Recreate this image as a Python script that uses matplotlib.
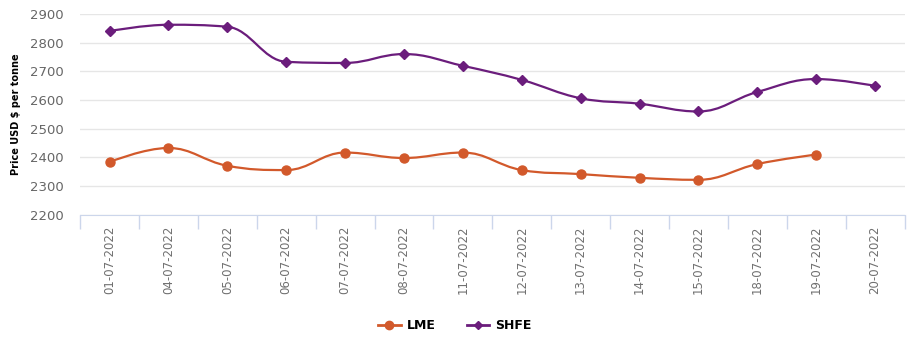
import matplotlib.pyplot as plt
from matplotlib.path import Path
from matplotlib.patches import PathPatch
from matplotlib.lines import Line2D

dates = ["01-07-2022", "04-07-2022", "05-07-2022", "06-07-2022", "07-07-2022",
         "08-07-2022", "11-07-2022", "12-07-2022", "13-07-2022", "14-07-2022",
         "15-07-2022", "18-07-2022", "19-07-2022", "20-07-2022"]
lme = [2384, 2433, 2371, 2356, 2417, 2398, 2417, 2356, 2342, 2329, 2322, 2377, 2410]
shfe = [2840, 2862, 2855, 2733, 2729, 2760, 2719, 2670, 2606, 2587, 2560, 2628, 2673, 2649]

LME_COLOR = "#d2592b"
SHFE_COLOR = "#6b1d7c"


def spline_path(xs, ys, smoothing=1.5):
    """Highcharts-style spline as a cubic bezier Path."""
    n = len(xs)
    denom = smoothing + 1
    left = [None] * n
    right = [None] * n
    for i in range(n):
        x, y = xs[i], ys[i]
        if 0 < i < n - 1:
            lx, ly = xs[i - 1], ys[i - 1]
            nx, ny = xs[i + 1], ys[i + 1]
            lcx = (smoothing * x + lx) / denom
            lcy = (smoothing * y + ly) / denom
            rcx = (smoothing * x + nx) / denom
            rcy = (smoothing * y + ny) / denom
            if rcx != lcx:
                corr = (rcy - lcy) * (rcx - x) / (rcx - lcx) + y - rcy
                lcy += corr
                rcy += corr
            if lcy > ly and lcy > y:
                lcy = max(ly, y)
                rcy = 2 * y - lcy
            elif lcy < ly and lcy < y:
                lcy = min(ly, y)
                rcy = 2 * y - lcy
            if rcy > ny and rcy > y:
                rcy = max(ny, y)
                lcy = 2 * y - rcy
            elif rcy < ny and rcy < y:
                rcy = min(ny, y)
                lcy = 2 * y - rcy
            left[i] = (lcx, lcy)
            right[i] = (rcx, rcy)
        else:
            left[i] = (x, y)
            right[i] = (x, y)
    verts = [(xs[0], ys[0])]
    codes = [Path.MOVETO]
    for i in range(1, n):
        verts += [right[i - 1], left[i], (xs[i], ys[i])]
        codes += [Path.CURVE4] * 3
    return Path(verts, codes)


fig = plt.figure(figsize=(9.1, 3.46), dpi=100)
ax = fig.add_axes([0.088, 0.379, 0.906, 0.581])

for vals, color, marker, ms in [(lme, LME_COLOR, "o", 6.5), (shfe, SHFE_COLOR, "D", 4.8)]:
    xs = list(range(len(vals)))
    ax.add_patch(PathPatch(spline_path(xs, vals), facecolor="none",
                           edgecolor=color, lw=1.6, zorder=3))
    ax.plot(xs, vals, linestyle="none", marker=marker, ms=ms,
            color=color, zorder=4)

ax.set_xlim(-0.5, len(dates) - 0.5)
ax.set_ylim(2200, 2900)
ax.set_yticks(range(2200, 2901, 100))
ax.yaxis.grid(True, color="#e6e6e6", lw=1)
ax.set_axisbelow(True)

ax.set_xticks(range(len(dates)))
ax.set_xticklabels(dates, rotation=90, color="#707070", fontsize=8.5)
ax.set_xticks([i - 0.5 for i in range(len(dates) + 1)], minor=True)
ax.tick_params(axis="x", which="major", length=0, pad=8)
ax.tick_params(axis="x", which="minor", length=10, color="#ccd6eb", width=1)
ax.tick_params(axis="y", length=0, labelsize=9.5, labelcolor="#666666", pad=12)

for s in ["top", "right", "left"]:
    ax.spines[s].set_visible(False)
ax.spines["bottom"].set_color("#ccd6eb")

ax.set_ylabel("Price USD $ per tonne", fontsize=7, fontweight="bold", labelpad=6)

handles = [
    Line2D([], [], color=LME_COLOR, marker="o", ms=6, lw=2),
    Line2D([], [], color=SHFE_COLOR, marker="D", ms=4.5, lw=2),
]
fig.legend(handles, ["LME", "SHFE"], loc="center", bbox_to_anchor=(0.5, 0.058),
           ncol=2, frameon=False, prop={"weight": "bold", "size": 9},
           handlelength=1.8, columnspacing=2.5, handletextpad=0.5)

fig.savefig("out.png", dpi=100)
